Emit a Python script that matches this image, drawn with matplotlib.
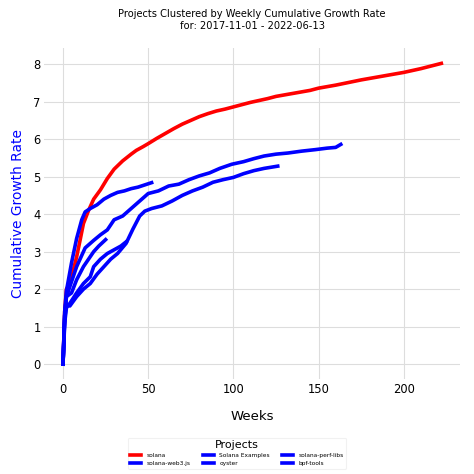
import matplotlib
matplotlib.use("Agg")
import matplotlib.pyplot as plt

# weeks / cumulative growth rate
solana_w = [0, 1, 2, 4, 5, 6, 8, 10, 12, 15, 18, 22, 26, 30, 35, 40, 43, 47, 50, 55, 60, 65, 70, 75, 80, 85, 90, 95, 100,
            110, 120, 125, 135, 145, 150, 160, 175, 190, 200, 210, 222]
solana_y = [0, 1.4, 2.0, 2.15, 2.25, 2.5, 2.86, 3.3, 3.75, 4.1, 4.4, 4.65, 4.95, 5.2, 5.42, 5.6, 5.7, 5.8, 5.88, 6.02, 6.15,
            6.28, 6.4, 6.5, 6.6, 6.68, 6.75, 6.8, 6.86, 6.98, 7.08, 7.14, 7.22, 7.3, 7.36, 7.44, 7.58, 7.7, 7.78, 7.88, 8.02]

web3_w = [0, 1, 2, 5, 8, 13, 18, 22, 26, 30, 35, 40, 45, 50, 56, 62, 68, 74, 80, 86, 92, 99, 106, 112, 118, 125, 132, 140,
          148, 155, 160, 163]
web3_y = [0, 1.3, 1.8, 2.2, 2.6, 3.1, 3.3, 3.45, 3.58, 3.85, 3.95, 4.15, 4.35, 4.55, 4.62, 4.75, 4.8, 4.92, 5.02, 5.1,
          5.22, 5.33, 5.4, 5.48, 5.55, 5.6, 5.63, 5.68, 5.72, 5.76, 5.78, 5.86]

examples_w = [0, 1, 2, 4, 8, 12, 16, 20, 24, 28, 32, 37, 41, 45, 48, 52, 58, 64, 70, 76, 82, 88, 94, 100, 106, 112, 118, 126]
examples_y = [0, 1.2, 1.6, 1.55, 1.8, 2.0, 2.15, 2.4, 2.6, 2.8, 2.95, 3.22, 3.6, 3.95, 4.08, 4.15, 4.22, 4.35, 4.5, 4.62,
              4.72, 4.85, 4.92, 4.98, 5.08, 5.16, 5.22, 5.28]

oyster_w = [0, 1, 2, 5, 8, 11, 13, 16, 20, 24, 28, 32, 36, 40, 44, 48, 52]
oyster_y = [0, 1.4, 1.95, 2.7, 3.35, 3.85, 4.06, 4.15, 4.25, 4.4, 4.5, 4.58, 4.62, 4.68, 4.72, 4.78, 4.84]

perflibs_w = [0, 1, 2, 4, 8, 12, 16, 18, 22, 26, 30, 34, 37]
perflibs_y = [0, 1.1, 1.5, 1.62, 1.9, 2.15, 2.33, 2.6, 2.8, 2.95, 3.05, 3.15, 3.26]

bpftools_w = [0, 1, 2, 5, 8, 12, 15, 18, 21, 25]
bpftools_y = [0, 1.3, 1.8, 1.9, 2.25, 2.6, 2.8, 3.0, 3.15, 3.32]

series = [
    ("solana", solana_w, solana_y, "red"),
    ("solana-web3.js", web3_w, web3_y, "blue"),
    ("Solana Examples", examples_w, examples_y, "blue"),
    ("oyster", oyster_w, oyster_y, "blue"),
    ("solana-perf-libs", perflibs_w, perflibs_y, "blue"),
    ("bpf-tools", bpftools_w, bpftools_y, "blue"),
]

fig = plt.figure(figsize=(4.74, 4.74), dpi=100)
ax = fig.add_axes([0.093, 0.2, 0.878, 0.698])

for name, w, y, col in series:
    ax.plot(w, y, color=col, lw=2.6, label=name)

ax.grid(True, color="#dddddd", lw=0.8)
ax.set_axisbelow(True)
for s in ax.spines.values():
    s.set_visible(False)
ax.tick_params(length=0, labelsize=8.3, pad=2.5)
ax.set_xticks([0, 50, 100, 150, 200])
ax.set_yticks(range(0, 9))

ax.set_xlabel("Weeks", fontsize=9.5, labelpad=10)
ax.set_ylabel("Cumulative Growth Rate", fontsize=9.9, color="blue", labelpad=6)
ax.set_title("Projects Clustered by Weekly Cumulative Growth Rate\nfor: 2017-11-01 - 2022-06-13",
             fontsize=7.1, pad=14)

leg = ax.legend(title="Projects", loc="upper center", bbox_to_anchor=(0.5, 0.076),
                bbox_transform=fig.transFigure, ncol=3,
                fontsize=4.2, title_fontsize=8, frameon=True, handlelength=1.85, handletextpad=1.0,
                columnspacing=2.1, borderpad=0.4, labelspacing=0.5, borderaxespad=0)
leg.get_frame().set_edgecolor("#eeeeee")
leg.get_frame().set_linewidth(0.8)

fig.savefig("out.png", dpi=100)
